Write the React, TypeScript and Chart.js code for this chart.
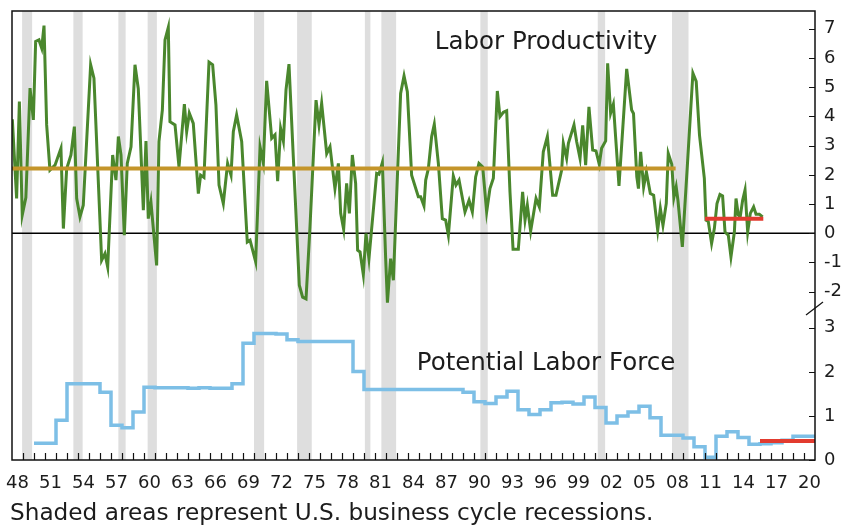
import React, { useEffect, useRef } from 'react';
import { Chart, registerables } from 'chart.js';

Chart.register(...registerables);

const FONT = "'DejaVu Sans', 'Noto Sans', sans-serif";
const TEXT_COLOR = '#1c1c1c';

// Labor productivity growth (%), top panel
const prodYears = [
  1948.03, 1948.42, 1948.67, 1948.93, 1949.26, 1949.64, 1949.94, 1950.15, 1950.45, 1950.7, 1950.91,
  1951.15, 1951.45, 1951.91, 1952.45, 1952.67, 1952.97, 1953.36, 1953.67, 1953.88, 1954.18, 1954.48,
  1955.15, 1955.45, 1956.15, 1956.45, 1956.7, 1957.15, 1957.45, 1957.67, 1957.91, 1958.21, 1958.48,
  1958.82, 1959.18, 1959.48, 1959.94, 1960.18, 1960.39, 1960.63, 1961.15, 1961.36, 1961.67, 1961.91,
  1962.21, 1962.36, 1962.82, 1963.18, 1963.67, 1963.88, 1964.12, 1964.48, 1964.94, 1965.15, 1965.45,
  1965.91, 1966.24, 1966.54, 1966.82, 1967.21, 1967.6, 1967.91, 1968.12, 1968.42, 1968.88, 1969.39,
  1969.64, 1970.15, 1970.55, 1970.85, 1971.15, 1971.61, 1971.91, 1972.15, 1972.42, 1972.67, 1972.91,
  1973.18, 1973.58, 1974.12, 1974.42, 1974.73, 1975.09, 1975.64, 1975.91, 1976.15, 1976.61, 1976.91,
  1977.36, 1977.67, 1977.88, 1978.15, 1978.42, 1978.67, 1978.94, 1979.24, 1979.42, 1979.64, 1979.94,
  1980.18, 1980.45, 1981.15, 1981.36, 1981.67, 1981.97, 1982.13, 1982.42, 1982.67, 1983.33, 1983.64,
  1983.94, 1984.33, 1984.94, 1985.15, 1985.45, 1985.61, 1985.85, 1986.15, 1986.39, 1986.76, 1987.12,
  1987.42, 1987.67, 1988.12, 1988.36, 1988.64, 1989.18, 1989.55, 1989.85, 1990.15, 1990.45, 1990.79,
  1991.15, 1991.45, 1991.76, 1992.12, 1992.36, 1992.67, 1992.97, 1993.27, 1993.55, 1994.03, 1994.42,
  1994.64, 1994.85, 1995.15, 1995.64, 1995.94, 1996.3, 1996.67, 1997.15, 1997.45, 1997.97, 1998.12,
  1998.42, 1998.58, 1999.09, 1999.33, 1999.64, 1999.88, 2000.15, 2000.45, 2000.79, 2001.09, 2001.39,
  2001.6, 2001.97, 2002.15, 2002.42, 2002.67, 2003.18, 2003.88, 2004.33, 2004.5, 2004.8, 2004.95,
  2005.15, 2005.42, 2005.67, 2006.03, 2006.33, 2006.7, 2006.94, 2007.18, 2007.48, 2007.66, 2007.98,
  2008.17, 2008.38, 2008.54, 2008.94, 2009.39, 2009.9, 2010.2, 2010.5, 2010.94, 2011.09, 2011.3,
  2011.6, 2011.85, 2012.09, 2012.36, 2012.6, 2012.82, 2013.12, 2013.36, 2013.67, 2013.82, 2014.03,
  2014.2, 2014.42, 2014.64, 2014.88, 2015.12, 2015.42, 2015.64, 2015.94, 2016.24,
];
const prodValues = [
  3.9, 1.19, 4.51, 0.62, 1.22, 4.97, 3.88, 6.57, 6.62, 6.34, 7.11,
  3.71, 2.16, 2.33, 2.91, 0.16, 2.21, 2.68, 3.65, 1.19, 0.56, 0.96,
  5.77, 5.31, -0.93, -0.7, -1.16, 2.68, 1.82, 3.31, 2.68, -0.07, 2.39,
  2.96, 5.77, 4.95, 0.79, 3.16, 0.5, 1.07, -1.1, 3.14, 4.22, 6.62,
  7.05, 3.82, 3.71, 2.27, 4.42, 3.48, 4.11, 3.76, 1.36, 1.99, 1.91,
  5.86, 5.77, 4.39, 1.65, 1.02, 2.39, 1.99, 3.48, 4.05, 3.14, -0.3,
  -0.24, -0.98, 2.96, 2.4, 5.22, 3.25, 3.37, 1.78, 3.59, 3.16, 4.91,
  5.79, 2.56, -1.78, -2.19, -2.25, 0.22, 4.56, 3.71, 4.45, 2.73, 2.96,
  1.53, 2.39, 0.68, 0.13, 1.71, 0.68, 2.68, 1.71, -0.58, -0.64, -1.42,
  -0.01, -0.87, 2.05, 2.02, 2.42, -0.87, -2.38, -0.87, -1.61, 4.79, 5.39,
  4.85, 1.99, 1.25, 1.25, 0.94, 1.82, 2.21, 3.31, 3.73, 2.39, 0.5,
  0.45, -0.07, 1.96, 1.65, 1.82, 0.73, 1.13, 0.73, 1.93, 2.39, 2.27,
  0.73, 1.53, 1.88, 4.87, 3.99, 4.14, 4.19, 1.42, -0.55, -0.55, 1.42,
  0.45, 0.96, 0.07, 1.19, 0.9, 2.79, 3.31, 1.3, 1.3, 2.16, 3.08,
  2.56, 3.08, 3.71, 3.14, 2.56, 3.69, 2.33, 4.33, 2.85, 2.82, 2.36,
  2.91, 3.16, 5.82, 4.11, 4.42, 1.62, 5.63, 4.22, 4.1, 1.93, 1.53,
  2.79, 1.58, 2.1, 1.36, 1.3, 0.1, 0.85, 0.27, 1.02, 2.73, 2.36,
  1.22, 1.59, 1.13, -0.47, 2.28, 5.48, 5.2, 3.36, 1.88, 0.45, 0.4,
  -0.35, 0.16, 1.02, 1.33, 1.28, 0.04, -0.07, -0.81, 0.04, 1.19, 0.62,
  0.56, 1.13, 1.48, 0.04, 0.68, 0.9, 0.65, 0.65, 0.56,
];

// Averages drawn as horizontal reference segments
const prodAvgEarlyYears = [1948, 2008.33];
const prodAvgEarly = 2.22;
const prodAvgRecentYears = [2011.0, 2016.3];
const prodAvgRecent = 0.5;

// Potential labor force growth (%), bottom panel (annual, step)
const laborYears = [
  1950, 1951, 1952, 1953, 1954, 1955, 1956, 1957, 1958, 1959,
  1960, 1961, 1962, 1963, 1964, 1965, 1966, 1967, 1968, 1969,
  1970, 1971, 1972, 1973, 1974, 1975, 1976, 1977, 1978, 1979,
  1980, 1981, 1982, 1983, 1984, 1985, 1986, 1987, 1988, 1989,
  1990, 1991, 1992, 1993, 1994, 1995, 1996, 1997, 1998, 1999,
  2000, 2001, 2002, 2003, 2004, 2005, 2006, 2007, 2008, 2009,
  2010, 2011, 2012, 2013, 2014, 2015, 2016, 2017, 2018, 2019,
  2020,
];
const laborValues = [
  0.38, 0.38, 0.38, 0.9, 1.73, 1.73, 1.73, 1.54, 0.79, 0.73,
  1.09, 1.65, 1.64, 1.64, 1.64, 1.63, 1.64, 1.63, 1.63, 1.73,
  2.65, 2.87, 2.87, 2.86, 2.73, 2.69, 2.69, 2.69, 2.69, 2.69,
  2.01, 1.6, 1.6, 1.6, 1.6, 1.6, 1.6, 1.6, 1.6, 1.6,
  1.54, 1.32, 1.28, 1.43, 1.56, 1.14, 1.03, 1.14, 1.3, 1.31,
  1.27, 1.43, 1.19, 0.84, 1.0, 1.09, 1.22, 0.96, 0.56, 0.56,
  0.5, 0.3, 0.06, 0.54, 0.64, 0.51, 0.36, 0.37, 0.39, 0.45,
  0.54,
];
const laborEndYear = 2021;
const laborAvgRecentYears = [2016.0, 2021.0];
const laborAvgRecent = 0.43;

// Recessions (decimal years)
const recessionStarts = [1948.92, 1953.58, 1957.67, 1960.33, 1970.0, 1973.92, 1980.08, 1981.58, 1990.58, 2001.25, 2008.0];
const recessionEnds = [1949.83, 1954.42, 1958.33, 1961.17, 1970.92, 1975.25, 1980.58, 1982.92, 1991.25, 2001.92, 2009.5];

// Axis ticks
const xLabelYears = [1948, 1951, 1954, 1957, 1960, 1963, 1966, 1969, 1972, 1975, 1978, 1981, 1984, 1987, 1990, 1993, 1996, 1999, 2002, 2005, 2008, 2011, 2014, 2017, 2020];
const topTicks = [-2, -1, 0, 1, 2, 3, 4, 5, 6, 7];
const bottomTicks = [0, 1, 2, 3];

const topLabel = 'Labor Productivity';
const bottomLabel = 'Potential Labor Force';
const footnote = 'Shaded areas represent U.S. business cycle recessions.';

const GREEN = '#4a872d';
const GOLD = '#c4952a';
const RED = '#e23b2f';
const BLUE = '#7dbfe6';
const SHADE = '#dedede';

const zeroPadding = (s: any) => {
  s.paddingTop = 0;
  s.paddingBottom = 0;
  s.paddingLeft = 0;
  s.paddingRight = 0;
};

const decorPlugin = {
  id: 'decor',
  beforeDatasetsDraw(chart: any) {
    const { ctx, chartArea: a, scales } = chart;
    const x = scales.x;
    ctx.save();
    ctx.fillStyle = SHADE;
    recessionStarts.forEach((s, i) => {
      const x1 = x.getPixelForValue(s);
      const x2 = x.getPixelForValue(recessionEnds[i]);
      ctx.fillRect(x1, a.top, x2 - x1, a.bottom - a.top);
    });
    const y0 = scales.yTop.getPixelForValue(0);
    ctx.strokeStyle = '#000';
    ctx.lineWidth = 1.5;
    ctx.beginPath();
    ctx.moveTo(a.left, y0);
    ctx.lineTo(a.right, y0);
    ctx.stroke();
    ctx.restore();
  },
  afterDraw(chart: any) {
    const { ctx, chartArea: a, scales } = chart;
    const x = scales.x;
    ctx.save();
    ctx.strokeStyle = '#111';
    ctx.lineWidth = 1.5;
    ctx.strokeRect(a.left, a.top, a.right - a.left, a.bottom - a.top);
    // inward tick marks on x axis, one per year
    ctx.lineWidth = 1.2;
    ctx.beginPath();
    for (let yr = Math.ceil(x.min) + 1; yr < x.max; yr++) {
      const px = Math.round(x.getPixelForValue(yr)) + 0.5;
      ctx.moveTo(px, a.bottom);
      ctx.lineTo(px, a.bottom - 7);
    }
    // inward tick marks on right axes
    topTicks.forEach((v) => {
      const py = Math.round(scales.yTop.getPixelForValue(v)) + 0.5;
      ctx.moveTo(a.right - 6, py);
      ctx.lineTo(a.right, py);
    });
    bottomTicks.forEach((v) => {
      const py = Math.round(scales.yBot.getPixelForValue(v)) + 0.5;
      ctx.moveTo(a.right - 6, py);
      ctx.lineTo(a.right, py);
    });
    ctx.stroke();
    // axis break mark
    const b = scales.yBot.top;
    ctx.lineWidth = 1.2;
    ctx.beginPath();
    ctx.moveTo(a.right - 9, b + 7);
    ctx.lineTo(a.right + 8, b - 6);
    ctx.stroke();
    // panel labels
    ctx.fillStyle = TEXT_COLOR;
    ctx.font = `24.5px ${FONT}`;
    ctx.textAlign = 'center';
    ctx.textBaseline = 'alphabetic';
    const cx = a.left + 534;
    ctx.fillText(topLabel, cx, a.top + 38);
    ctx.fillText(bottomLabel, cx, scales.yBot.top + 62);
    // footnote
    ctx.textAlign = 'left';
    ctx.font = `23.2px ${FONT}`;
    ctx.fillText(footnote, 10, chart.height - 5);
    ctx.restore();
  },
};

export default function App() {
  const ref = useRef<HTMLCanvasElement | null>(null);

  useEffect(() => {
    document.body.style.margin = '0';
    const canvas = ref.current;
    if (!canvas) return;

    const prodData = prodYears.map((yr, i) => ({ x: yr, y: prodValues[i] }));
    const laborData = laborYears.map((yr, i) => ({ x: yr, y: laborValues[i] }));
    laborData.push({ x: laborEndYear, y: laborValues[laborValues.length - 1] });

    const tickFont = { family: FONT, size: 18 };

    const chart = new Chart(canvas, {
      type: 'line',
      data: {
        datasets: [
          {
            label: 'Average 1948-2008',
            data: prodAvgEarlyYears.map((yr) => ({ x: yr, y: prodAvgEarly })),
            yAxisID: 'yTop',
            borderColor: GOLD,
            borderWidth: 4,
            pointRadius: 0,
            order: 0,
          },
          {
            label: 'Average 2011-2016',
            data: prodAvgRecentYears.map((yr) => ({ x: yr, y: prodAvgRecent })),
            yAxisID: 'yTop',
            borderColor: RED,
            borderWidth: 4,
            pointRadius: 0,
            order: 0,
          },
          {
            label: topLabel,
            data: prodData,
            yAxisID: 'yTop',
            borderColor: GREEN,
            borderWidth: 3,
            pointRadius: 0,
            tension: 0,
            order: 1,
          },
          {
            label: 'Recent labor force average',
            data: laborAvgRecentYears.map((yr) => ({ x: yr, y: laborAvgRecent })),
            yAxisID: 'yBot',
            borderColor: RED,
            borderWidth: 4,
            pointRadius: 0,
            order: 0,
          },
          {
            label: bottomLabel,
            data: laborData,
            yAxisID: 'yBot',
            borderColor: BLUE,
            borderWidth: 3.5,
            pointRadius: 0,
            stepped: 'after',
            order: 1,
          },
        ],
      },
      options: {
        responsive: false,
        animation: false,
        layout: { padding: { left: 12, top: 11, right: 0, bottom: 0 } },
        plugins: { legend: { display: false }, tooltip: { enabled: false } },
        scales: {
          x: {
            type: 'linear',
            min: 1948,
            max: 2021,
            position: 'bottom',
            grid: { display: false, drawTicks: false },
            border: { display: false },
            afterBuildTicks: (s: any) => {
              s.ticks = xLabelYears.map((yr) => ({ value: yr + 0.5 }));
            },
            afterFit: (s: any) => {
              s.height = 65;
              zeroPadding(s);
            },
            ticks: {
              autoSkip: false,
              maxRotation: 0,
              padding: 13,
              color: TEXT_COLOR,
              font: tickFont,
              callback: (v: any) => String(Math.floor(Number(v))).slice(2),
            },
          },
          yTop: {
            type: 'linear',
            position: 'right',
            stack: 'panels',
            stackWeight: 297,
            min: -2.56,
            max: 7.61,
            grid: { display: false, drawTicks: false },
            border: { display: false },
            afterBuildTicks: (s: any) => {
              s.ticks = topTicks.map((v) => ({ value: v }));
            },
            afterFit: (s: any) => {
              s.width = 26;
              zeroPadding(s);
            },
            ticks: { autoSkip: false, padding: 9, color: TEXT_COLOR, font: tickFont, callback: (v: any) => String(v) },
          },
          yBot: {
            type: 'linear',
            position: 'right',
            stack: 'panels',
            stackWeight: 152,
            min: 0,
            max: 3.45,
            grid: { display: false, drawTicks: false },
            border: { display: false },
            afterBuildTicks: (s: any) => {
              s.ticks = bottomTicks.map((v) => ({ value: v }));
            },
            afterFit: (s: any) => {
              s.width = 26;
              zeroPadding(s);
            },
            ticks: { autoSkip: false, padding: 9, color: TEXT_COLOR, font: tickFont, callback: (v: any) => String(v) },
          },
        },
      } as any,
      plugins: [decorPlugin],
    });

    return () => chart.destroy();
  }, []);

  return (
    <canvas
      ref={ref}
      width={841}
      height={525}
      style={{ display: 'block', width: 841, height: 525 }}
    />
  );
}
